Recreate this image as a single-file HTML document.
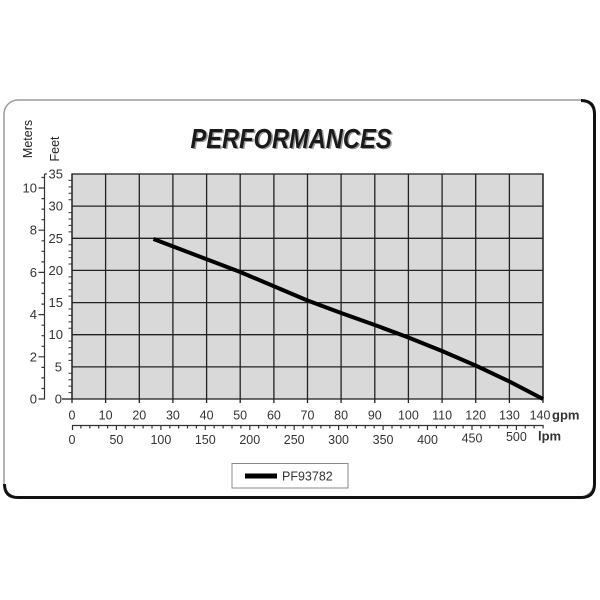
<!DOCTYPE html>
<html><head><meta charset="utf-8"><style>
html,body{margin:0;padding:0;background:#fff;}
svg{display:block;}
text{font-family:"Liberation Sans",Arial,sans-serif;fill:#333;}
</style></head><body>
<svg width="600" height="600" viewBox="0 0 600 600" xmlns="http://www.w3.org/2000/svg">
<rect x="0" y="0" width="600" height="600" fill="#fff"/>
<!-- card -->
<rect x="4" y="100" width="590" height="397" rx="14" ry="14" fill="#fff" stroke="#9a9a9a" stroke-width="1.5"/>
<path d="M581,100.5 Q594.5,100.5 594.5,114 L594.5,484 Q594.5,497.5 581,497.5 L18,497.5 Q4.5,497.5 4.5,484" fill="none" stroke="#111" stroke-width="3"/>
<!-- title -->
<text x="192" y="149" font-size="28" font-weight="bold" font-style="italic" textLength="201" lengthAdjust="spacingAndGlyphs" style="fill:#999">PERFORMANCES</text>
<text x="190.5" y="148" font-size="28" font-weight="bold" font-style="italic" textLength="201" lengthAdjust="spacingAndGlyphs" style="fill:#1a1a1a">PERFORMANCES</text>
<!-- axis titles -->
<text transform="translate(32,139) rotate(-90)" font-size="12.5" text-anchor="middle" style="fill:#222">Meters</text>
<text transform="translate(59,149) rotate(-90)" font-size="12.5" text-anchor="middle" style="fill:#222">Feet</text>
<!-- plot area -->
<rect x="72" y="174" width="471" height="225" fill="#d9d9d9"/>
<g stroke="#222" stroke-width="1.3" fill="none">
<path d="M105.6,174V403M139.3,174V403M172.9,174V403M206.6,174V403M240.2,174V403M273.9,174V403M307.5,174V403M341.1,174V403M374.8,174V403M408.4,174V403M442.1,174V403M475.7,174V403M509.4,174V403M543,174V403M72,174V403"/>
<path d="M72,206.1H543M72,238.3H543M72,270.4H543M72,302.6H543M72,334.7H543M72,366.9H543"/>
<rect x="72" y="174" width="471" height="225"/>
<path d="M62,399H72"/>
</g>
<!-- feet minor ticks -->
<g stroke="#333" stroke-width="1">
<path d="M68.5,180.4H72M68.5,186.9H72M68.5,193.3H72M68.5,199.7H72M68.5,212.6H72M68.5,219H72M68.5,225.4H72M68.5,231.9H72M68.5,244.7H72M68.5,251.1H72M68.5,257.6H72M68.5,264H72M68.5,276.9H72M68.5,283.3H72M68.5,289.7H72M68.5,296.1H72M68.5,309H72M68.5,315.4H72M68.5,321.9H72M68.5,328.3H72M68.5,341.1H72M68.5,347.6H72M68.5,354H72M68.5,360.4H72M68.5,373.3H72M68.5,379.7H72M68.5,386.1H72M68.5,392.6H72"/>
</g>
<!-- meters axis -->
<g stroke="#333" stroke-width="1.2" fill="none">
<path d="M44.5,174V399.5"/>
<path d="M38.5,399H44.5M38.5,356.8H44.5M38.5,314.6H44.5M38.5,272.4H44.5M38.5,230.2H44.5M38.5,188H44.5"/>
<path d="M41.5,388.5H44.5M41.5,377.9H44.5M41.5,367.4H44.5M41.5,346.3H44.5M41.5,335.7H44.5M41.5,325.2H44.5M41.5,304.1H44.5M41.5,293.5H44.5M41.5,283H44.5M41.5,261.9H44.5M41.5,251.3H44.5M41.5,240.8H44.5M41.5,219.7H44.5M41.5,209.1H44.5M41.5,198.6H44.5M41.5,177.5H44.5"/>
<path d="M44.5,174H47"/>
</g>
<!-- meters labels -->
<g font-size="13" text-anchor="end">
<text x="37" y="403.5">0</text>
<text x="37" y="361.3">2</text>
<text x="37" y="319.1">4</text>
<text x="37" y="276.9">6</text>
<text x="37" y="234.7">8</text>
<text x="37" y="192.5">10</text>
</g>
<!-- feet labels -->
<g font-size="13" text-anchor="end">
<text x="62" y="403.5">0</text>
<text x="62" y="371.4">5</text>
<text x="63" y="339.2">10</text>
<text x="63" y="307.1">15</text>
<text x="63" y="274.9">20</text>
<text x="63" y="242.8">25</text>
<text x="63" y="210.6">30</text>
<text x="63" y="178.5">35</text>
</g>
<!-- gpm labels -->
<g font-size="12.5" text-anchor="middle">
<text x="72" y="419.5">0</text>
<text x="105.6" y="419.5">10</text>
<text x="139.3" y="419.5">20</text>
<text x="172.9" y="419.5">30</text>
<text x="206.6" y="419.5">40</text>
<text x="240.2" y="419.5">50</text>
<text x="273.9" y="419.5">60</text>
<text x="307.5" y="419.5">70</text>
<text x="341.1" y="419.5">80</text>
<text x="374.8" y="419.5">90</text>
<text x="408.4" y="419.5">100</text>
<text x="442.1" y="419.5">110</text>
<text x="475.7" y="419.5">120</text>
<text x="509.4" y="419.5">130</text>
<text x="540" y="419.5">140</text>
</g>
<text x="552" y="419.5" font-size="13" font-weight="bold" style="fill:#333">gpm</text>
<!-- lpm axis -->
<g stroke="#333" stroke-width="1.2" fill="none">
<path d="M72,425.5H543.5"/>
<path d="M72.5,425V430M80.9,425V428.5M89.8,425V428.5M98.7,425V428.5M107.6,425V428.5M116.4,425V430M125.3,425V428.5M134.2,425V428.5M143.1,425V428.5M152,425V428.5M160.9,425V430M169.8,425V428.5M178.6,425V428.5M187.5,425V428.5M196.4,425V428.5M205.3,425V430M214.2,425V428.5M223.1,425V428.5M232,425V428.5M240.9,425V428.5M249.8,425V430M258.6,425V428.5M267.5,425V428.5M276.4,425V428.5M285.3,425V428.5M294.2,425V430M303.1,425V428.5M312,425V428.5M320.9,425V428.5M329.8,425V428.5M338.6,425V430M347.5,425V428.5M356.4,425V428.5M365.3,425V428.5M374.2,425V428.5M383.1,425V430M392,425V428.5M400.9,425V428.5M409.8,425V428.5M418.7,425V428.5M427.5,425V430M436.4,425V428.5M445.3,425V428.5M454.2,425V428.5M463.1,425V428.5M472,425V430M480.9,425V428.5M489.8,425V428.5M498.7,425V428.5M507.5,425V428.5M516.4,425V430M525.3,425V428.5M534.2,425V428.5M543.1,425V428.5"/>
</g>
<g font-size="12.5" text-anchor="middle">
<text x="72" y="444">0</text>
<text x="116.4" y="444">50</text>
<text x="160.9" y="444">100</text>
<text x="205.3" y="444">150</text>
<text x="249.8" y="444">200</text>
<text x="294.2" y="444">250</text>
<text x="338.6" y="444">300</text>
<text x="383.1" y="444">350</text>
<text x="427.5" y="444">400</text>
<text x="472" y="442.5">450</text>
<text x="516.4" y="441">500</text>
</g>
<text x="538" y="440.5" font-size="13" font-weight="bold" style="fill:#333">lpm</text>
<!-- curve -->
<polyline points="153.5,239 240.2,272 307.5,300.5 341.1,313 374.8,325 408.4,337.5 442,351 475.7,365.6 509.4,381.5 543,399" fill="none" stroke="#000" stroke-width="4" stroke-linejoin="round"/>
<!-- legend -->
<rect x="232" y="463.5" width="116" height="24.5" fill="#fff" stroke="#8a8a8a" stroke-width="1"/>
<rect x="245" y="473.5" width="32" height="5" fill="#000"/>
<text x="282" y="480.5" font-size="12.5" style="fill:#333">PF93782</text>
</svg>
</body></html>
